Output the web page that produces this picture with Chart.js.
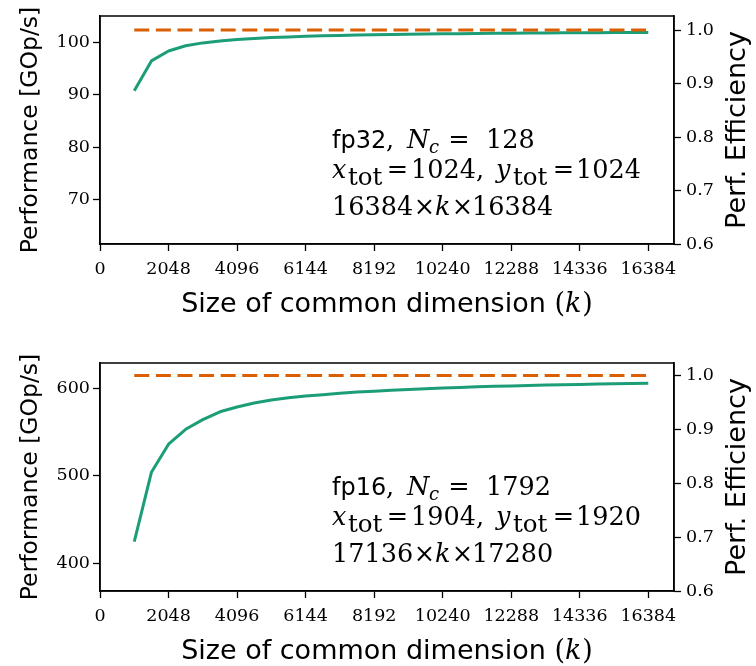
<!DOCTYPE html>
<html><head><meta charset="utf-8">
<script src="https://cdn.jsdelivr.net/npm/chart.js@4.4.1/dist/chart.umd.min.js"></script>
<style>
html,body{margin:0;padding:0;background:#fff;}
#wrap{width:756px;height:666px;}
canvas{display:block;}
</style></head><body>
<div id="wrap">
<canvas id="c1" width="756" height="333"></canvas>
<canvas id="c2" width="756" height="333"></canvas>
</div>
<script>
// ---- data ----
const kValues = [1024,1536,2048,2560,3072,3584,4096,4608,5120,5632,6144,6656,7168,7680,8192,8704,
  9216,9728,10240,10752,11264,11776,12288,12800,13312,13824,14336,14848,15360,15872,16384];
const perfFp32 = [90.8,96.5,98.4,99.4,99.95,100.3,100.6,100.8,101.0,101.1,101.2,101.3,101.38,101.45,101.5,101.56,
  101.6,101.64,101.68,101.72,101.75,101.78,101.8,101.83,101.85,101.87,101.89,101.91,101.93,101.95,101.96];
const perfFp16 = [425,504,536,553,564,573,578.5,583,586.5,589,591,592.5,594,595.5,596.5,597.5,
  598.5,599.3,600,600.8,601.4,602,602.5,603,603.4,603.8,604.2,604.6,605,605.3,605.6];
const peakFp32 = 102.4;
const peakFp16 = 614.4;
const xTicks = [0,2048,4096,6144,8192,10240,12288,14336,16384];
const perfTicksFp32 = [70,80,90,100];
const perfTicksFp16 = [400,500,600];
const effTicks = [0.6,0.7,0.8,0.9,1.0];
const xTitle = 'Size of common dimension';
const yTitle = 'Performance [GOp/s]';
const y2Title = 'Perf. Efficiency';

const GREEN = '#1b9e77', ORANGE = '#d95f02';
const SERIF = "'DejaVu Serif'", SANS = "'DejaVu Sans'";

function drawSegs(ctx, segs, x0, y0) {
  let cx = x0;
  for (const s of segs) {
    ctx.font = s.f;
    const w = ctx.measureText(s.t).width;
    let x = cx;
    if (s.at !== undefined) x = x0 + s.at;
    if (s.c !== undefined) x = x0 + s.c - w / 2;
    ctx.fillText(s.t, x, y0 + (s.dy || 0));
    cx = x + w + (s.gap || 0);
  }
}

function makeChart(id, perf, peak, perfMin, perfMax, perfTicks, topPad, xH, ann) {
  const ctx = document.getElementById(id).getContext('2d');
  const tickFont = {family: SERIF, size: 17.5};
  const gridOpts = {drawOnChartArea: false, drawTicks: true, tickLength: 7, tickWidth: 1.3, tickColor: '#000', color: '#000'};
  const borderOpts = {display: true, color: '#000', width: 1.5};
  const decor = {
    id: 'decor',
    afterDraw(chart) {
      const c = chart.ctx, a = chart.chartArea;
      c.save();
      c.strokeStyle = '#000'; c.lineWidth = 1.5;
      c.strokeRect(a.left, a.top, a.right - a.left, a.bottom - a.top);
      c.fillStyle = '#000';
      c.textBaseline = 'alphabetic';
      // x title
      const segs = [
        {t: xTitle + ' ', f: `27px ${SANS}`},
        {t: '(', f: `27px ${SERIF}`},
        {t: 'k', f: `italic 27px ${SERIF}`, gap: 1},
        {t: ')', f: `27px ${SERIF}`}
      ];
      let tw = 0;
      for (const s of segs) { c.font = s.f; tw += c.measureText(s.t).width + (s.gap || 0); }
      drawSegs(c, segs, (a.left + a.right) / 2 - tw / 2, a.bottom + 67.5);
      // y titles
      const cy = (a.top + a.bottom) / 2;
      c.textAlign = 'center';
      c.save(); c.translate(37, cy); c.rotate(-Math.PI / 2);
      c.font = `23.5px ${SANS}`; c.fillText(yTitle, 0, 0); c.restore();
      c.save(); c.translate(745, cy); c.rotate(-Math.PI / 2);
      c.font = `27px ${SANS}`; c.fillText(y2Title, 0, 0); c.restore();
      c.textAlign = 'left';
      // annotation
      const ser = `25.5px ${SERIF}`, it = `italic 25.5px ${SERIF}`, sub = `24.5px ${SERIF}`, subIt = `italic 18px ${SERIF}`;
      const x0 = 332;
      drawSegs(c, [
        {t: ann.prec, f: `24px ${SANS}`},
        {t: ',', f: ser, at: 54},
        {t: 'N', f: it, at: 75},
        {t: 'c', f: subIt, dy: 5, at: 97},
        {t: '=', f: ser, c: 127},
        {t: ann.nc, f: ser, at: 154}
      ], x0, a.top + 132);
      drawSegs(c, [
        {t: 'x', f: it, at: 0},
        {t: 'tot', f: sub, dy: 7, at: 16},
        {t: '=', f: ser, c: 65.5},
        {t: ann.xt + ',', f: ser, at: 79},
        {t: 'y', f: it, at: 164},
        {t: 'tot', f: sub, dy: 7, at: 181},
        {t: '=', f: ser, c: 231.5},
        {t: ann.yt, f: ser, at: 244}
      ], x0, a.top + 162);
      drawSegs(c, [
        {t: ann.m, f: ser, at: 0},
        {t: '\u00d7', f: ser, c: 92.5},
        {t: 'k', f: it, at: 103},
        {t: '\u00d7', f: ser, c: 130.5},
        {t: ann.n, f: ser, at: 140}
      ], x0, a.top + 199);
      c.restore();
    }
  };
  return new Chart(ctx, {
    type: 'line',
    data: {
      datasets: [
        {label: 'peak', data: [{x: kValues[0], y: peak}, {x: kValues[kValues.length - 1], y: peak}],
          borderColor: ORANGE, borderWidth: 3, borderDash: [15, 6.6], borderCapStyle: 'butt',
          pointRadius: 0, yAxisID: 'y', fill: false},
        {label: 'perf', data: kValues.map((k, i) => ({x: k, y: perf[i]})),
          borderColor: GREEN, borderWidth: 3, pointRadius: 0, yAxisID: 'y', fill: false,
          tension: 0, borderJoinStyle: 'round'}
      ]
    },
    options: {
      responsive: false, animation: false, devicePixelRatio: 1,
      layout: {padding: {top: topPad, left: 0, right: 0, bottom: 0}},
      plugins: {legend: {display: false}, tooltip: {enabled: false}},
      scales: {
        x: {
          type: 'linear', position: 'bottom', min: 0, max: 17152,
          afterBuildTicks: s => { s.ticks = xTicks.map(v => ({value: v})); },
          afterFit: s => { s.height = xH; },
          ticks: {font: tickFont, color: '#000', padding: 8, maxRotation: 0, autoSkip: false, callback: v => String(v)},
          grid: gridOpts, border: borderOpts
        },
        y: {
          type: 'linear', position: 'left', min: perfMin, max: perfMax,
          afterBuildTicks: s => { s.ticks = perfTicks.map(v => ({value: v})); },
          afterFit: s => { s.width = 100; },
          ticks: {font: tickFont, color: '#000', padding: 3, callback: v => String(v)},
          grid: gridOpts, border: borderOpts
        },
        eff: {
          type: 'linear', position: 'right', min: perfMin / peak, max: perfMax / peak,
          afterBuildTicks: s => { s.ticks = effTicks.map(v => ({value: v})); },
          afterFit: s => { s.width = 82; },
          ticks: {font: tickFont, color: '#000', padding: 5, callback: v => v.toFixed(1)},
          grid: gridOpts, border: borderOpts
        }
      }
    },
    plugins: [decor]
  });
}

makeChart('c1', perfFp32, peakFp32, 0.6 * peakFp32, 105.1, perfTicksFp32, 16, 89,
  {prec: 'fp32', nc: '128', xt: '1024', yt: '1024', m: '16384', n: '16384'});
makeChart('c2', perfFp16, peakFp16, 0.6 * peakFp16, 628.6, perfTicksFp16, 30, 75,
  {prec: 'fp16', nc: '1792', xt: '1904', yt: '1920', m: '17136', n: '17280'});
</script>
</body></html>
